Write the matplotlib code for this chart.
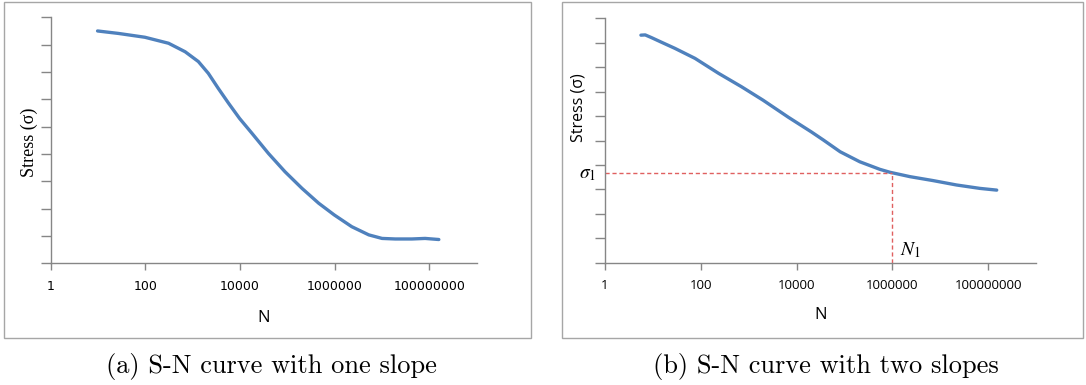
import numpy as np
import matplotlib.pyplot as plt
from matplotlib.patches import Rectangle

plt.rcParams["mathtext.fontset"] = "stix"

# curve (a): log10(N) and stress (arbitrary units)
logN_a = [0.99, 1.43, 1.99, 2.49, 2.84, 3.12, 3.33, 3.54, 3.76, 3.99, 4.25,
          4.60, 4.95, 5.31, 5.66, 5.99, 6.36, 6.72, 7.00, 7.28, 7.63, 7.91, 8.20]
stress_a = [8.50, 8.41, 8.27, 8.05, 7.74, 7.38, 6.95, 6.40, 5.85, 5.30, 4.76,
            4.02, 3.35, 2.74, 2.20, 1.77, 1.34, 1.04, 0.91, 0.89, 0.89, 0.91, 0.87]

# curve (b)
logN_b = [0.75, 0.84, 0.97, 1.18, 1.46, 1.88, 2.37, 2.85, 3.30, 3.83, 4.31,
          4.56, 4.91, 5.32, 5.74, 5.95, 6.37, 6.85, 7.34, 7.83, 8.18]
stress_b = [9.31, 9.32, 9.21, 9.02, 8.77, 8.36, 7.75, 7.20, 6.65, 5.95, 5.35,
            5.02, 4.54, 4.13, 3.82, 3.70, 3.52, 3.36, 3.18, 3.04, 2.97]

N1 = 1e6
sigma1 = 3.66

xticks = [1, 100, 10000, 1000000, 100000000]
xticklabels = ["1", "100", "10000", "1000000", "100000000"]

blue = "#4f81bd"
grey = "#868686"
red = "#e06060"

fig = plt.figure(figsize=(10.86, 3.85), dpi=100)
W, H = 1086, 385


def make_axes(x0, x1, ytop, ybot, ymax, tickfont, ticksize):
    ax = fig.add_axes([x0 / W, 1 - ybot / H, (x1 - x0) / W, (ybot - ytop) / H])
    ax.set_xscale("log")
    ax.set_xlim(1, 1e9)
    ax.set_ylim(0, ymax)
    ax.spines[["top", "right"]].set_visible(False)
    for s in ["left", "bottom"]:
        ax.spines[s].set_color(grey)
        ax.spines[s].set_linewidth(1.0)
    ax.set_xticks(xticks)
    ax.set_xticklabels(xticklabels, fontfamily=tickfont, fontsize=ticksize)
    ax.xaxis.set_minor_locator(plt.NullLocator())
    ax.set_yticks(range(0, ymax + 1))
    ax.set_yticklabels([])
    ax.tick_params(axis="x", length=5, width=1, color=grey, pad=7)
    ax.tick_params(axis="y", length=7, width=1, color=grey)
    ax.set_xlabel("N", fontfamily="Open Sans", fontsize=12)
    return ax


# panel boxes
fig.patches.append(Rectangle((3.5 / W, 1 - 338 / H), 527 / W, 336 / H,
                             transform=fig.transFigure, fill=False,
                             edgecolor="#a6a6a6", linewidth=1.0))
fig.patches.append(Rectangle((562 / W, 1 - 338 / H), 521 / W, 336 / H,
                             transform=fig.transFigure, fill=False,
                             edgecolor="#a6a6a6", linewidth=1.0))

# (a)
ax1 = make_axes(50.7, 476.7, 17.3, 263.3, 9, "DejaVu Sans", 9)
ax1.plot(10 ** np.array(logN_a), stress_a, color=blue, lw=2.4,
         solid_capstyle="round", solid_joinstyle="round")
ax1.set_ylabel("Stress (σ)", fontfamily="Liberation Serif", fontsize=13)
ax1.yaxis.set_label_coords(-0.03, 0.49)
ax1.xaxis.set_label_coords(0.5, -0.19)

# (b)
ax2 = make_axes(605, 1036, 18.3, 262.7, 10, "Open Sans", 9.5)
ax2.plot(10 ** np.array(logN_b), stress_b, color=blue, lw=2.4,
         solid_capstyle="round", solid_joinstyle="round")
ax2.plot([1, N1], [sigma1, sigma1], color=red, lw=1.0, ls=(0, (3, 2)))
ax2.plot([N1, N1], [0, sigma1], color=red, lw=1.0, ls=(0, (3, 2)))
ax2.set_ylabel("Stress (σ)", fontfamily="Open Sans", fontsize=11.5)
ax2.yaxis.set_label_coords(-0.044, 0.633)
ax2.xaxis.set_label_coords(0.5, -0.18)
ax2.text(-0.02, sigma1, r"$\sigma_1$", transform=ax2.get_yaxis_transform(),
         ha="right", va="center", fontsize=14)
ax2.text(1.45e6, 0.1, r"$N_1$", ha="left", va="bottom", fontsize=14)

# captions
fig.text(271 / W, 1 - 367 / H, "(a) S-N curve with one slope",
         fontfamily="cmr10", fontsize=19, ha="center", va="center")
fig.text(826 / W, 1 - 367 / H, "(b) S-N curve with two slopes",
         fontfamily="cmr10", fontsize=19, ha="center", va="center")

fig.savefig("out.png", dpi=100)
